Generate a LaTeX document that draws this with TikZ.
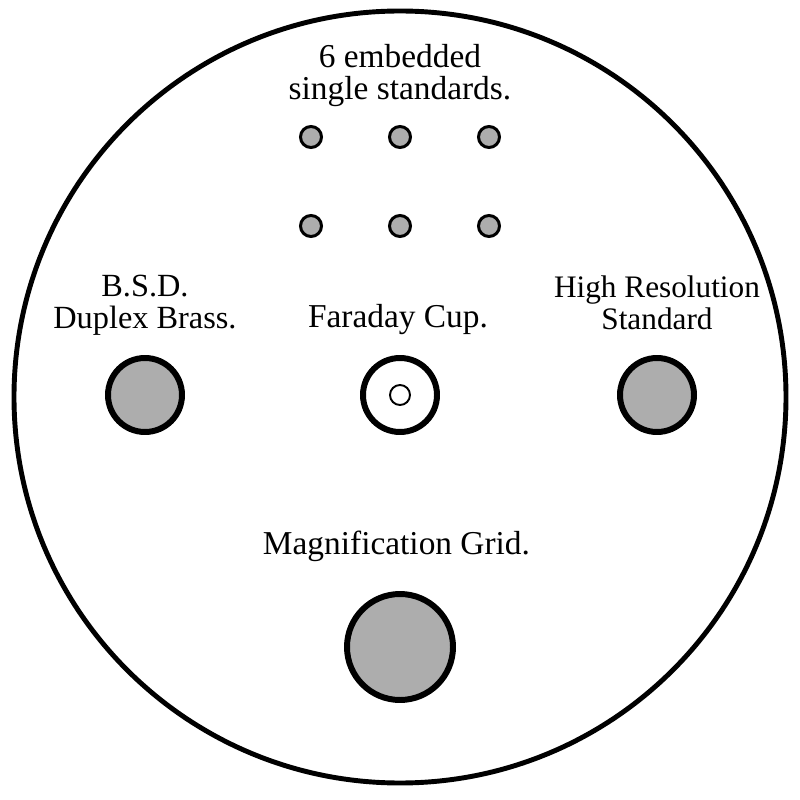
\documentclass[tikz,border=0pt]{standalone}
\usepackage{fontspec}
\setmainfont{Liberation Serif}
\usepackage{tikz}

\begin{document}
\begin{tikzpicture}[cap=round,
    label/.style={align=center,inner sep=0pt,font=\fontsize{19pt}{18.5pt}\selectfont},
    stub/.style={line width=1.7pt,fill=black!32},
    mount/.style={line width=3.4pt,fill=black!32}]
            \useasboundingbox (-8cm,-8.06cm) rectangle (8cm,7.94cm);

            % draw the holder
            \draw[line width=2.8pt] (0cm,0cm) circle(7.72cm);

            % the six single standards
            \foreach \x in {-1.78,0,1.78}
                \foreach \y in {5.2,3.42}
                    \draw[stub] (\x cm,\y cm) circle(0.21cm);

            % B.S.D. and high resolution
            \draw[mount] (-5.1cm,0.04cm) circle(0.74cm);
            \draw[mount] (5.14cm,0.04cm) circle(0.74cm);

            % faraday cup
            \draw[line width=3.4pt] (0cm,0.04cm) circle(0.74cm);
            \draw[line width=1.1pt] (0cm,0.04cm) circle(0.2cm);

            % magnification grid
            \draw[mount] (0cm,-5cm) circle(1.06cm);

            % text
            \node[label] (single) at (0cm,6.43cm) {6 embedded\\single standards.};
            \node[label,font=\fontsize{18.4pt}{18.5pt}\selectfont] (bsd) at (-5.1cm,1.84cm) {B.S.D.\\Duplex Brass.};
            \node[label] (faraday) at (-0.04cm,1.54cm) {Faraday Cup.};
            \node[label,font=\fontsize{17.8pt}{18.5pt}\selectfont] (hires) at (5.14cm,1.88cm) {High Resolution\\Standard};
            \node[label] (grid) at (-0.07cm,-2.98cm) {Magnification Grid.};
        \end{tikzpicture}
\end{document}
